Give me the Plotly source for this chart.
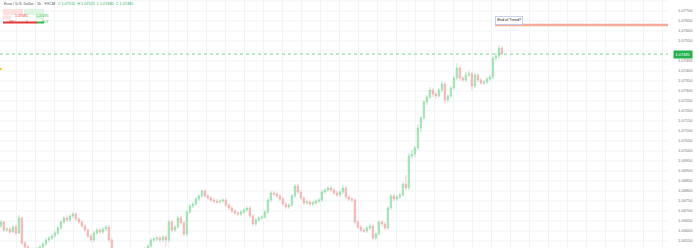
import plotly.graph_objects as go

opens = [1.06625,1.06645,1.06605,1.06610,1.06595,1.06620,1.06590,1.06665,1.06540,1.06520,
1.06505,1.06495,1.06505,1.06510,1.06520,1.06535,1.06555,1.06565,1.06575,1.06590,
1.06615,1.06645,1.06665,1.06655,1.06675,1.06685,1.06660,1.06645,1.06625,1.06605,
1.06575,1.06555,1.06590,1.06605,1.06595,1.06610,1.06620,1.06555,1.06505,1.06485,
1.06475,1.06465,1.06480,1.06470,1.06485,1.06475,1.06495,1.06505,1.06495,1.06510,
1.06525,1.06555,1.06560,1.06565,1.06555,1.06570,1.06555,1.06645,1.06605,1.06620,
1.06665,1.06640,1.06585,1.06695,1.06725,1.06735,1.06760,1.06775,1.06800,1.06775,
1.06765,1.06755,1.06750,1.06745,1.06750,1.06755,1.06730,1.06715,1.06700,1.06690,
1.06685,1.06695,1.06705,1.06715,1.06675,1.06635,1.06655,1.06665,1.06670,1.06695,
1.06755,1.06790,1.06785,1.06775,1.06760,1.06735,1.06720,1.06730,1.06775,1.06825,
1.06795,1.06765,1.06740,1.06745,1.06735,1.06740,1.06750,1.06755,1.06795,1.06805,
1.06815,1.06805,1.06790,1.06780,1.06795,1.06815,1.06770,1.06760,1.06755,1.06645,
1.06620,1.06605,1.06600,1.06615,1.06625,1.06565,1.06585,1.06645,1.06635,1.06615,
1.06715,1.06775,1.06760,1.06770,1.06780,1.06835,1.06815,1.06975,1.06985,1.07015,
1.07115,1.07165,1.07245,1.07270,1.07305,1.07285,1.07275,1.07305,1.07335,1.07255,
1.07275,1.07315,1.07365,1.07415,1.07365,1.07355,1.07380,1.07385,1.07325,1.07380,
1.07355,1.07340,1.07345,1.07360,1.07370,1.07465,1.07475,1.07515]

closes = [1.06645,1.06605,1.06610,1.06595,1.06620,1.06590,1.06665,1.06540,1.06520,1.06505,
1.06495,1.06505,1.06510,1.06520,1.06535,1.06555,1.06565,1.06575,1.06590,1.06615,
1.06645,1.06665,1.06655,1.06675,1.06685,1.06660,1.06645,1.06625,1.06605,1.06575,
1.06555,1.06590,1.06605,1.06595,1.06610,1.06620,1.06555,1.06505,1.06485,1.06475,
1.06465,1.06480,1.06470,1.06485,1.06475,1.06495,1.06505,1.06495,1.06510,1.06525,
1.06555,1.06560,1.06565,1.06555,1.06570,1.06555,1.06645,1.06605,1.06620,1.06665,
1.06640,1.06585,1.06695,1.06725,1.06735,1.06760,1.06775,1.06800,1.06775,1.06765,
1.06755,1.06750,1.06745,1.06750,1.06755,1.06730,1.06715,1.06700,1.06690,1.06685,
1.06695,1.06705,1.06715,1.06675,1.06635,1.06655,1.06665,1.06670,1.06695,1.06755,
1.06790,1.06785,1.06775,1.06760,1.06735,1.06720,1.06730,1.06775,1.06825,1.06795,
1.06765,1.06740,1.06745,1.06735,1.06740,1.06750,1.06755,1.06795,1.06805,1.06815,
1.06805,1.06790,1.06780,1.06795,1.06815,1.06770,1.06760,1.06755,1.06645,1.06620,
1.06605,1.06600,1.06615,1.06625,1.06565,1.06585,1.06645,1.06635,1.06615,1.06715,
1.06775,1.06760,1.06770,1.06780,1.06835,1.06815,1.06975,1.06985,1.07015,1.07115,
1.07165,1.07245,1.07270,1.07305,1.07285,1.07275,1.07305,1.07335,1.07255,1.07275,
1.07315,1.07365,1.07415,1.07365,1.07355,1.07380,1.07385,1.07325,1.07380,1.07355,
1.07340,1.07345,1.07360,1.07370,1.07465,1.07475,1.07515,1.07485]

highs = [1.06655,1.06650,1.06620,1.06620,1.06630,1.06630,1.06680,1.06670,1.06550,1.06530,
1.06515,1.06510,1.06520,1.06530,1.06545,1.06565,1.06575,1.06585,1.06600,1.06625,
1.06655,1.06675,1.06680,1.06685,1.06695,1.06695,1.06670,1.06655,1.06635,1.06615,
1.06585,1.06600,1.06615,1.06615,1.06620,1.06630,1.06630,1.06565,1.06515,1.06495,
1.06485,1.06490,1.06490,1.06495,1.06495,1.06505,1.06515,1.06515,1.06520,1.06535,
1.06565,1.06570,1.06575,1.06575,1.06580,1.06580,1.06655,1.06655,1.06630,1.06675,
1.06675,1.06650,1.06705,1.06735,1.06745,1.06770,1.06785,1.06810,1.06810,1.06785,
1.06775,1.06765,1.06760,1.06760,1.06765,1.06765,1.06740,1.06725,1.06710,1.06700,
1.06705,1.06715,1.06725,1.06725,1.06685,1.06665,1.06675,1.06680,1.06705,1.06765,
1.06800,1.06800,1.06795,1.06785,1.06770,1.06745,1.06740,1.06785,1.06835,1.06835,
1.06805,1.06775,1.06755,1.06755,1.06750,1.06760,1.06765,1.06805,1.06815,1.06825,
1.06825,1.06815,1.06800,1.06805,1.06830,1.06825,1.06780,1.06770,1.06765,1.06655,
1.06630,1.06615,1.06625,1.06640,1.06635,1.06595,1.06655,1.06655,1.06645,1.06725,
1.06785,1.06785,1.06780,1.06790,1.06845,1.06880,1.06990,1.07005,1.07025,1.07135,
1.07175,1.07255,1.07280,1.07320,1.07315,1.07295,1.07315,1.07350,1.07345,1.07285,
1.07325,1.07375,1.07440,1.07425,1.07375,1.07395,1.07400,1.07395,1.07390,1.07390,
1.07365,1.07355,1.07370,1.07380,1.07475,1.07490,1.07530,1.07525]

lows = [1.06615,1.06595,1.06595,1.06585,1.06590,1.06580,1.06585,1.06530,1.06510,1.06495,
1.06485,1.06480,1.06495,1.06500,1.06510,1.06525,1.06545,1.06555,1.06565,1.06580,
1.06605,1.06635,1.06645,1.06645,1.06665,1.06650,1.06635,1.06615,1.06595,1.06565,
1.06545,1.06545,1.06580,1.06585,1.06585,1.06600,1.06545,1.06495,1.06475,1.06465,
1.06455,1.06455,1.06460,1.06460,1.06465,1.06465,1.06485,1.06485,1.06485,1.06500,
1.06515,1.06545,1.06550,1.06545,1.06545,1.06520,1.06545,1.06595,1.06595,1.06610,
1.06630,1.06575,1.06575,1.06685,1.06715,1.06725,1.06750,1.06765,1.06765,1.06755,
1.06745,1.06740,1.06735,1.06735,1.06740,1.06720,1.06705,1.06690,1.06680,1.06675,
1.06675,1.06685,1.06695,1.06665,1.06625,1.06625,1.06645,1.06655,1.06660,1.06685,
1.06745,1.06775,1.06765,1.06750,1.06725,1.06710,1.06710,1.06720,1.06765,1.06785,
1.06755,1.06730,1.06730,1.06725,1.06725,1.06730,1.06740,1.06745,1.06785,1.06795,
1.06795,1.06780,1.06770,1.06770,1.06785,1.06760,1.06750,1.06745,1.06635,1.06610,
1.06595,1.06590,1.06590,1.06605,1.06555,1.06555,1.06575,1.06625,1.06605,1.06605,
1.06705,1.06750,1.06750,1.06760,1.06770,1.06805,1.06805,1.06960,1.06970,1.07005,
1.07095,1.07155,1.07230,1.07260,1.07270,1.07260,1.07265,1.07295,1.07240,1.07245,
1.07265,1.07305,1.07355,1.07350,1.07345,1.07345,1.07370,1.07305,1.07315,1.07345,
1.07330,1.07330,1.07335,1.07350,1.07360,1.07450,1.07460,1.07480]

bars = list(range(len(closes)))

tick_values = [1.0775, 1.0770, 1.0765, 1.0760, 1.0755, 1.0745, 1.0740, 1.0735,
               1.0730, 1.0725, 1.0720, 1.0715, 1.0710, 1.0705, 1.0700, 1.0695, 1.0690,
               1.0685, 1.0680, 1.0675, 1.0670, 1.0665, 1.0660, 1.0655]
tick_labels = ["1.07750", "1.07700", "1.07650", "1.07600", "1.07550", "1.07450", "1.07400",
               "1.07350", "1.07300", "1.07250", "1.07200", "1.07150", "1.07100", "1.07050",
               "1.07000", "1.06950", "1.06900", "1.06850", "1.06800", "1.06750", "1.06700",
               "1.06650", "1.06600", "1.06550"]
grid_values = [1.0775, 1.0770, 1.0765, 1.0760, 1.0755, 1.0750, 1.0745, 1.0740, 1.0735,
               1.0730, 1.0725, 1.0720, 1.0715, 1.0710, 1.0705, 1.0700, 1.0695, 1.0690,
               1.0685, 1.0680, 1.0675, 1.0670, 1.0665, 1.0660, 1.0655]

last_price = 1.07485
target_level = 1.07630
target_start_bar = 164.7
note_level = 1.07655
note_text = "End of Trend?"
header_title = "Euro / U.S. Dollar · 1h · FXCM"
header_ohlc = "O 1.07515  H 1.07525  L 1.07480  C 1.07485"
sell_price = "1.07485"
buy_price = "1.07491"

W, H = 698, 248
PLOT_W = 668

def px(x):
    return x / PLOT_W

def py(y):
    return 1 - y / H

fig = go.Figure()
fig.add_trace(go.Candlestick(
    x=bars, open=opens, high=highs, low=lows, close=closes,
    increasing=dict(line=dict(color="#8edca6", width=0.6), fillcolor="#a8e6bb"),
    decreasing=dict(line=dict(color="#f3a9a9", width=0.6), fillcolor="#f7baba"),
    whiskerwidth=0, showlegend=False, hoverinfo="skip",
))

# horizontal grid lines (including the one hidden behind the price label)
for g in grid_values:
    fig.add_shape(type="line", xref="paper", yref="y", x0=0, x1=1, y0=g, y1=g,
                  line=dict(color="#f1f3f6", width=1), layer="below")

# target line
fig.add_shape(type="line", xref="x", yref="y", x0=target_start_bar, x1=230,
              y0=target_level, y1=target_level,
              line=dict(color="#f5ab9b", width=2.5))
# last price dotted line
fig.add_shape(type="line", xref="paper", yref="y", x0=0, x1=1,
              y0=last_price, y1=last_price,
              line=dict(color="#74d890", width=1, dash="dot"))

annotations = []
annotations.append(dict(x=target_start_bar, y=note_level, xref="x", yref="y",
                        text=note_text, showarrow=False, xanchor="left", yanchor="middle",
                        font=dict(size=3.8, color="#222", family="Liberation Sans"),
                        bgcolor="#ffffff", bordercolor="#b9c7e6", borderwidth=0.8, borderpad=1.5))
annotations.append(dict(x=1, y=last_price, xref="paper", yref="y",
                        text=f"{last_price:.5f}", showarrow=False, xanchor="left", yanchor="middle",
                        xshift=5, font=dict(size=4, color="#ffffff", family="Liberation Sans"),
                        bgcolor="#22b14c", borderpad=1.2))
# header
annotations.append(dict(x=px(2), y=py(4), xref="paper", yref="paper",
                        text=f"<span style='color:#555'>{header_title}</span>  <span style='color:#2eb35a'>{header_ohlc}</span>",
                        showarrow=False, xanchor="left", yanchor="middle",
                        font=dict(size=3.8, family="Liberation Sans")))

# buy/sell widget
shapes = []
shapes.append(dict(type="rect", xref="paper", yref="paper", x0=px(3), x1=px(23), y0=py(15), y1=py(9),
                   fillcolor="#fde1e1", line=dict(width=0)))
shapes.append(dict(type="rect", xref="paper", yref="paper", x0=px(24), x1=px(44), y0=py(15), y1=py(9),
                   fillcolor="#dcf6e2", line=dict(width=0)))
shapes.append(dict(type="rect", xref="paper", yref="paper", x0=px(3), x1=px(11), y0=py(19.5), y1=py(15.5),
                   fillcolor="#fde1e1", line=dict(width=0)))
shapes.append(dict(type="rect", xref="paper", yref="paper", x0=px(36), x1=px(44), y0=py(19.5), y1=py(15.5),
                   fillcolor="#dcf6e2", line=dict(width=0)))
shapes.append(dict(type="rect", xref="paper", yref="paper", x0=px(3), x1=px(37), y0=py(23.5), y1=py(21.5),
                   fillcolor="#e53935", line=dict(width=0)))
shapes.append(dict(type="rect", xref="paper", yref="paper", x0=px(37), x1=px(44), y0=py(23.5), y1=py(21.5),
                   fillcolor="#2ebd4e", line=dict(width=0)))
shapes.append(dict(type="rect", xref="paper", yref="paper", x0=px(0), x1=px(1.5), y0=py(70), y1=py(68),
                   fillcolor="#f2c200", line=dict(width=0)))
for s in shapes:
    fig.add_shape(**s)

annotations.append(dict(x=px(13), y=py(12), xref="paper", yref="paper", text=sell_price,
                        showarrow=False, font=dict(size=3.5, color="#e53935", family="Liberation Sans")))
annotations.append(dict(x=px(34), y=py(12), xref="paper", yref="paper", text=buy_price,
                        showarrow=False, font=dict(size=3.5, color="#2ebd4e", family="Liberation Sans")))
annotations.append(dict(x=px(7), y=py(17.5), xref="paper", yref="paper", text="SELL",
                        showarrow=False, font=dict(size=3, color="#e53935", family="Liberation Sans")))
annotations.append(dict(x=px(23.5), y=py(17.5), xref="paper", yref="paper", text="0",
                        showarrow=False, font=dict(size=3, color="#555", family="Liberation Sans")))
annotations.append(dict(x=px(40), y=py(17.5), xref="paper", yref="paper", text="BUY",
                        showarrow=False, font=dict(size=3, color="#2ebd4e", family="Liberation Sans")))

fig.update_layout(
    width=W, height=H,
    margin=dict(l=0, r=W - PLOT_W, t=0, b=0),
    paper_bgcolor="#ffffff", plot_bgcolor="#ffffff",
    annotations=annotations,
    xaxis=dict(range=[-0.3, PLOT_W / 3 - 0.3], showticklabels=False, ticks="",
               showgrid=True, gridcolor="#f1f3f6", gridwidth=1,
               tick0=16 / 3, dtick=19 / 3, zeroline=False, rangeslider=dict(visible=False),
               showline=False, fixedrange=True),
    yaxis=dict(range=[1.06515, 1.07755], side="right", tickmode="array",
               tickvals=tick_values, ticktext=tick_labels, showgrid=False,
               tickfont=dict(size=4, color="#777", family="Liberation Sans"),
               ticks="", ticklabelstandoff=9, zeroline=False, showline=False, fixedrange=True),
)

fig.write_html("out.html")
